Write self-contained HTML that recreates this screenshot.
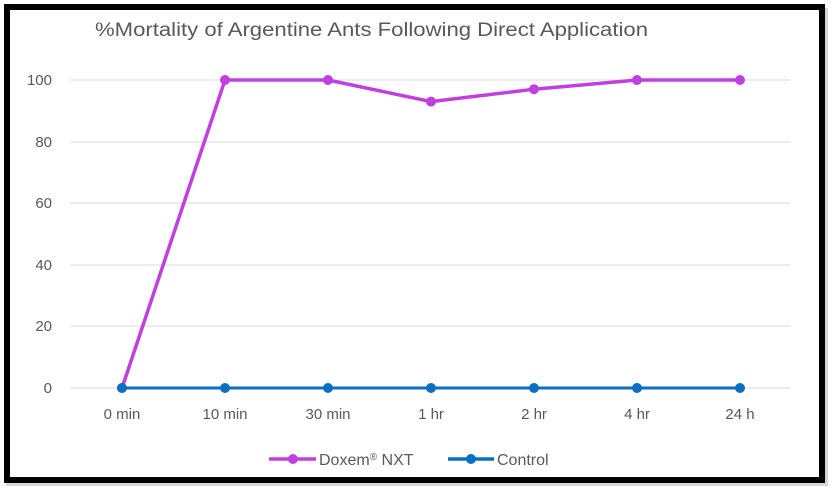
<!DOCTYPE html>
<html><head><style>
body{margin:0;width:836px;height:498px;background:#fff;overflow:hidden}
svg{position:absolute;left:0;top:0}
text{font-family:"Liberation Sans",sans-serif;fill:#595959}
</style></head><body>
<svg width="836" height="498">
<rect x="6" y="8" width="822" height="478" fill="#bbb" opacity="0.6"/>
<rect x="7" y="7" width="815" height="473" fill="#fff" stroke="#000" stroke-width="6"/>
<text x="95" y="36" font-size="19" textLength="553" lengthAdjust="spacingAndGlyphs">%Mortality of Argentine Ants Following Direct Application</text>
<g stroke="#d9d9d9" stroke-width="1">
<line x1="70" x2="790" y1="80" y2="80"/><line x1="70" x2="790" y1="142" y2="142"/>
<line x1="70" x2="790" y1="203" y2="203"/><line x1="70" x2="790" y1="265" y2="265"/>
<line x1="70" x2="790" y1="326" y2="326"/><line x1="70" x2="790" y1="388" y2="388"/>
</g>
<g font-size="15" text-anchor="end">
<text x="52" y="85">100</text><text x="52" y="147">80</text><text x="52" y="208">60</text>
<text x="52" y="270">40</text><text x="52" y="331">20</text><text x="52" y="393">0</text>
</g>
<g font-size="15" text-anchor="middle">
<text x="122" y="419">0 min</text><text x="225" y="419">10 min</text><text x="328" y="419">30 min</text>
<text x="431" y="419">1 hr</text><text x="534" y="419">2 hr</text><text x="637" y="419">4 hr</text><text x="740" y="419">24 h</text>
</g>
<polyline points="122,388 225,80 328,80 431,101.6 534,89.2 637,80 740,80" fill="none" stroke="#bf40df" stroke-width="3.5"/>
<g fill="#bf40df"><circle cx="122" cy="388" r="5"/><circle cx="225" cy="80" r="5"/><circle cx="328" cy="80" r="5"/><circle cx="431" cy="101.6" r="5"/><circle cx="534" cy="89.2" r="5"/><circle cx="637" cy="80" r="5"/><circle cx="740" cy="80" r="5"/></g>
<line x1="122" x2="740" y1="388" y2="388" stroke="#0a6fc2" stroke-width="3"/>
<g fill="#0a6fc2"><circle cx="122" cy="388" r="5"/><circle cx="225" cy="388" r="5"/><circle cx="328" cy="388" r="5"/><circle cx="431" cy="388" r="5"/><circle cx="534" cy="388" r="5"/><circle cx="637" cy="388" r="5"/><circle cx="740" cy="388" r="5"/></g>
<line x1="269" x2="316" y1="459" y2="459" stroke="#bf40df" stroke-width="3.5"/><circle cx="293" cy="459" r="5" fill="#bf40df"/>
<text x="319" y="465" font-size="16">Doxem<tspan font-size="10" dy="-5">®</tspan><tspan dy="5"> NXT</tspan></text>
<line x1="448" x2="494" y1="459" y2="459" stroke="#0a6fc2" stroke-width="3.5"/><circle cx="471" cy="459" r="5" fill="#0a6fc2"/>
<text x="497" y="465" font-size="16">Control</text>
</svg>
</body></html>
